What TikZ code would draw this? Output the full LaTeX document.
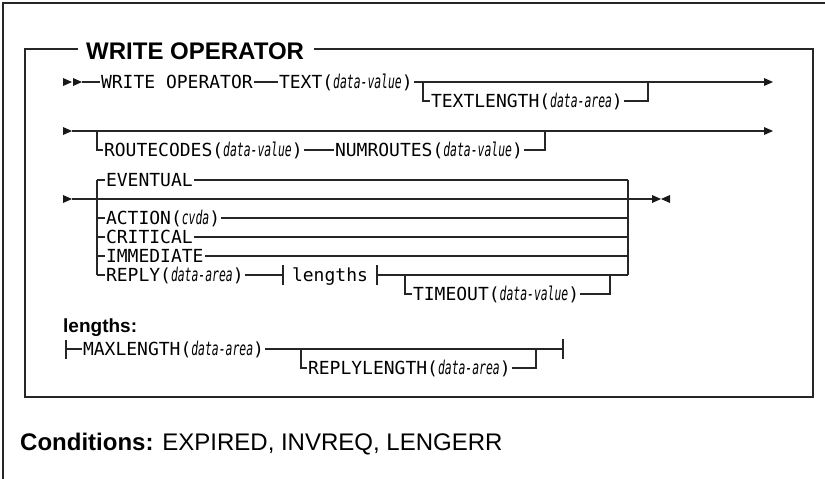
\documentclass[tikz,border=0pt]{standalone}
\usepackage{fontspec}
\newfontfamily\monof{DejaVu Sans Mono}
\newfontfamily\itf[FakeStretch=0.6]{DejaVu Sans Mono}
\newfontfamily\arialf{Liberation Sans}
\newcommand{\vr}[1]{{\itf\itshape\fontsize{19}{20}\selectfont #1}}
\tikzset{
  rr/.style={line width=1.1pt, draw=black!85},
  frame/.style={line width=1.4pt, draw=black!85},
  kwn/.style={inner xsep=1pt, inner ysep=0pt, outer sep=0pt, anchor=west,
    text height=13pt, text depth=0pt, font=\monof\fontsize{18}{20}\selectfont},
  tri/.pic={\fill[black!90] (0,-4) -- (9,0) -- (0,4) -- cycle;},
  tril/.pic={\fill[black!90] (9,-4) -- (0,0) -- (9,4) -- cycle;},
}
\begin{document}
\begin{tikzpicture}[x=1pt,y=-1pt]
\useasboundingbox (0,0) rectangle (825,479);

% outer frame
\coordinate (o1) at (3,479);
\coordinate (o2) at (3,3);
\coordinate (o3) at (825,3);
\draw[frame] (o1) -- (o2) -- (o3);

% inner box with title
\node[anchor=west, inner sep=0pt, font=\arialf\bfseries\fontsize{24}{26}\selectfont] (title) at (86,51) {WRITE OPERATOR};
\coordinate (tl) at (25,49);
\coordinate (tr) at (813,49);
\coordinate (bl) at (25,397);
\coordinate (br) at (813,397);
\path (title.west) ++(-8,0) coordinate (tw);
\path (title.east) ++(10,0) coordinate (te);
\draw[frame] (tw |- tl) -- (tl) -- (bl) -- (br) -- (tr) -- (te |- tr);

% ---------- row 1 ----------
\pic at (63,82) {tri};
\pic at (73,82) {tri};
\coordinate (r1s) at (82,82);
\node[kwn] (wo) at (100,82) {WRITE OPERATOR};
\node[kwn] (txt) at (278,82) {TEXT(\vr{data-value})};
\coordinate (r1b) at (423,82);
\coordinate (r1c) at (648,82);
\coordinate (r1e) at (764,82);
\draw[rr] (r1s) -- (wo.west);
\draw[rr] (wo.east) -- (txt.west);
\draw[rr] (txt.east) -- (r1e);
\pic at (r1e) {tri};
\node[kwn] (tlen) at (430,101) {TEXTLENGTH(\vr{data-area})};
\draw[rr] (r1b) |- (tlen.west);
\draw[rr] (tlen.east) -| (r1c);

% ---------- row 2 ----------
\pic at (63,131) {tri};
\coordinate (r2s) at (72,131);
\coordinate (r2e) at (764,131);
\draw[rr] (r2s) -- (r2e);
\pic at (r2e) {tri};
\coordinate (r2b) at (97,131);
\coordinate (r2c) at (545,131);
\node[kwn] (rc) at (103,150) {ROUTECODES(\vr{data-value})};
\node[kwn] (nr) at (334,150) {NUMROUTES(\vr{data-value})};
\draw[rr] (r2b) |- (rc.west);
\draw[rr] (rc.east) -- (nr.west);
\draw[rr] (nr.east) -| (r2c);

% ---------- row 3 ----------
\pic at (63,199) {tri};
\coordinate (r3s) at (72,199);
\coordinate (r3e) at (652,199);
\draw[rr] (r3s) -- (r3e);
\pic at (r3e) {tri};
\pic at (661,199) {tril};
\coordinate (slt) at (97,180);
\coordinate (slb) at (97,275);
\coordinate (srt) at (628,180);
\coordinate (srb) at (628,275);
\draw[rr] (slt) -- (slb);
\draw[rr] (srt) -- (srb);
\node[kwn] (ev) at (105,180) {EVENTUAL};
\node[kwn] (ac) at (105,218) {ACTION(\vr{cvda})};
\node[kwn] (cr) at (105,237) {CRITICAL};
\node[kwn] (im) at (105,256) {IMMEDIATE};
\node[kwn] (rp) at (105,275) {REPLY(\vr{data-area})};
\foreach \n in {ev,ac,cr,im,rp}{
  \draw[rr] (\n.west -| slt) -- (\n.west);
}
\foreach \n in {ev,ac,cr,im}{
  \draw[rr] (\n.east) -- (\n.east -| srt);
}
\coordinate (tk1) at (283,275);
\draw[rr] (rp.east) -- (tk1);
\draw[rr] (tk1) ++(0,-10) -- ++(0,20);
\node[kwn, anchor=center] (len) at (330,275) {lengths};
\coordinate (tk2) at (377,275);
\draw[rr] (tk2) ++(0,-10) -- ++(0,20);
\draw[rr] (tk2) -- (srb);
\coordinate (tb) at (405,275);
\coordinate (tc) at (610,275);
\node[kwn] (to) at (412,294) {TIMEOUT(\vr{data-value})};
\draw[rr] (tb) |- (to.west);
\draw[rr] (to.east) -| (tc);

% ---------- lengths ----------
\node[anchor=west, inner sep=0pt, font=\arialf\bfseries\fontsize{19}{21}\selectfont] (lh) at (63,328) {lengths:};
\coordinate (l1) at (66,349);
\draw[rr] (l1) ++(0,-9) -- ++(0,19);
\node[kwn] (ml) at (82,349) {MAXLENGTH(\vr{data-area})};
\draw[rr] (l1) -- (ml.west);
\coordinate (le) at (563,349);
\draw[rr] (ml.east) -- (le);
\draw[rr] (le) ++(0,-10) -- ++(0,20);
\coordinate (lb) at (301,349);
\coordinate (lc) at (536,349);
\node[kwn] (rl) at (307,368) {REPLYLENGTH(\vr{data-area})};
\draw[rr] (lb) |- (rl.west);
\draw[rr] (rl.east) -| (lc);

% ---------- conditions ----------
\node[anchor=base west, inner sep=0pt, font=\arialf\fontsize{24}{26}\selectfont] (cond) at (20,450) {\textbf{Conditions:} EXPIRED, INVREQ, LENGERR};
\end{tikzpicture}
\end{document}
